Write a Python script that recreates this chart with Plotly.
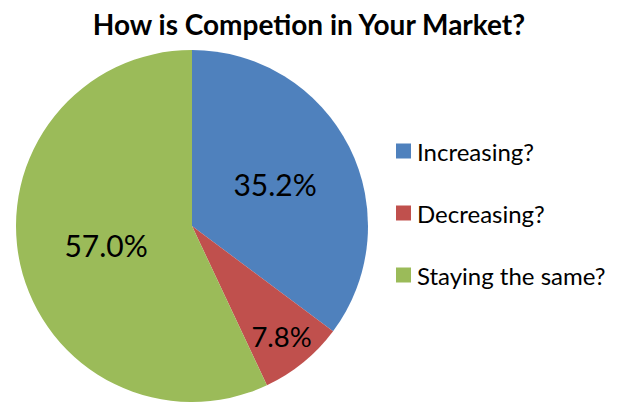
import plotly.graph_objects as go

# Survey responses
categories = ["Increasing?", "Decreasing?", "Staying the same?"]
shares = [35.2, 7.8, 57.0]
colors = ["#4F81BD", "#C0504D", "#9BBB59"]

W, H = 617, 402

fig = go.Figure(
    go.Pie(
        labels=categories,
        values=shares,
        sort=False,
        direction="clockwise",
        rotation=0,
        marker=dict(colors=colors, line=dict(width=0)),
        texttemplate="%{value:.1f}%",
        textposition="inside",
        insidetextorientation="horizontal",
        textfont=dict(family="Lato", size=30, color="black"),
        domain=dict(x=[16 / W, 368 / W], y=[0, 352 / H]),
        showlegend=False,
        hoverinfo="label+percent",
    )
)

# Legend drawn as colour swatches with labels beside them
legend_top = 151
row_gap = 62
for i, (name, col) in enumerate(zip(categories, colors)):
    yc = legend_top + i * row_gap
    fig.add_shape(
        type="rect", xref="paper", yref="paper",
        x0=396 / W, x1=411 / W,
        y0=1 - (yc + 7.5) / H, y1=1 - (yc - 7.5) / H,
        fillcolor=col, line=dict(width=0),
    )
    fig.add_annotation(
        text=name, xref="paper", yref="paper",
        x=415 / W, y=1 - yc / H, xanchor="left", yanchor="middle",
        showarrow=False,
        font=dict(family="Lato", size=24, color="black"),
    )

fig.update_layout(
    width=W, height=H,
    margin=dict(l=0, r=0, t=0, b=0),
    paper_bgcolor="white",
    plot_bgcolor="white",
    title=dict(
        text="<b>How is Competion in Your Market?</b>",
        x=309 / W, xanchor="center",
        y=1 - 25 / H, yanchor="middle",
        font=dict(family="Lato", size=28, color="black"),
    ),
)

fig.write_html("out.html")
